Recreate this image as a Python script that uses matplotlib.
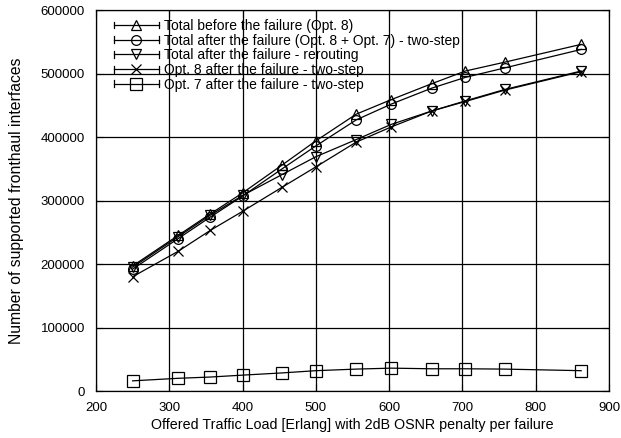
"""Supported fronthaul interfaces vs offered traffic load (2dB OSNR penalty)."""

import matplotlib

matplotlib.use("Agg")
import matplotlib.pyplot as plt
from matplotlib.legend_handler import HandlerLine2D
from matplotlib.lines import Line2D

plt.rcParams["font.family"] = ["Liberation Sans", "DejaVu Sans"]

# Offered traffic load [Erlang]
load = [250, 312, 356, 400, 454, 500, 555, 603, 658, 704, 758, 862]

total_before = [197000, 245000, 279000, 312000, 356000, 394000, 436000, 459000, 484000, 504000, 518000, 546000]
total_after_two_step = [192000, 240000, 274000, 307000, 350000, 386000, 427000, 452000, 477000, 494000, 509000, 538000]
total_after_rerouting = [195000, 243000, 277000, 308000, 341000, 369000, 396000, 420000, 441000, 457000, 475000, 504000]
opt8_after = [180000, 220000, 253000, 283000, 321000, 353000, 392000, 416000, 441000, 456000, 474000, 503000]
opt7_after = [16000, 20000, 22000, 25000, 28500, 32000, 34500, 36000, 35000, 35000, 34500, 32000]

labels = [
    "Total before the failure (Opt. 8)",
    "Total after the failure (Opt. 8 + Opt. 7) - two-step",
    "Total after the failure - rerouting",
    "Opt. 8 after the failure - two-step",
    "Opt. 7 after the failure - two-step",
]
markers = ["^", "o", "v", "x", "s"]


class CappedLineHandler(HandlerLine2D):
    # gnuplot-style key sample: |--marker--|
    def create_artists(self, legend, orig_handle, xdescent, ydescent,
                       width, height, fontsize, trans):
        artists = super().create_artists(legend, orig_handle, xdescent, ydescent,
                                         width, height, fontsize, trans)
        y = height / 2 - ydescent
        h = height * 0.35
        for x in (-xdescent, width - xdescent):
            cap = Line2D([x, x], [y - h, y + h], color="black", lw=0.9)
            cap.set_transform(trans)
            artists.append(cap)
        return artists


def main() -> None:
    fig = plt.figure(figsize=(6.21, 4.38), dpi=100)
    ax = fig.add_axes([0.1546, 0.1073, 0.8261, 0.8697])

    series = [total_before, total_after_two_step, total_after_rerouting, opt8_after, opt7_after]
    for values, label, marker in zip(series, labels, markers):
        ax.plot(
            load,
            values,
            color="black",
            lw=0.9,
            marker=marker,
            markersize=7 if marker != "s" else 8,
            markerfacecolor="none",
            markeredgecolor="black",
            markeredgewidth=0.9,
            label=label,
        )

    ax.set_xlim(200, 900)
    ax.set_ylim(0, 600000)
    ax.set_xticks(range(200, 901, 100))
    ax.set_yticks(range(0, 600001, 100000))
    ax.grid(True, color="black", lw=0.9)
    ax.set_axisbelow(True)
    ax.tick_params(direction="in", top=True, right=True, length=5, labelsize=9.5)
    ax.tick_params(axis="x", pad=8)
    ax.tick_params(axis="y", pad=8)
    for spine in ax.spines.values():
        spine.set_linewidth(0.9)

    ax.set_xlabel("Offered Traffic Load [Erlang] with 2dB OSNR penalty per failure",
                  fontsize=10.3, labelpad=3)
    ax.set_ylabel("Number of supported fronthaul interfaces", fontsize=11.3, labelpad=12)

    ax.legend(
        loc="upper left",
        bbox_to_anchor=(0.022, 0.995),
        frameon=False,
        fontsize=10,
        handlelength=3.2,
        handletextpad=0.35,
        labelspacing=0.05,
        borderpad=0.0,
        handler_map={Line2D: CappedLineHandler()},
    )

    fig.savefig("out.png", dpi=100)


if __name__ == "__main__":
    main()
